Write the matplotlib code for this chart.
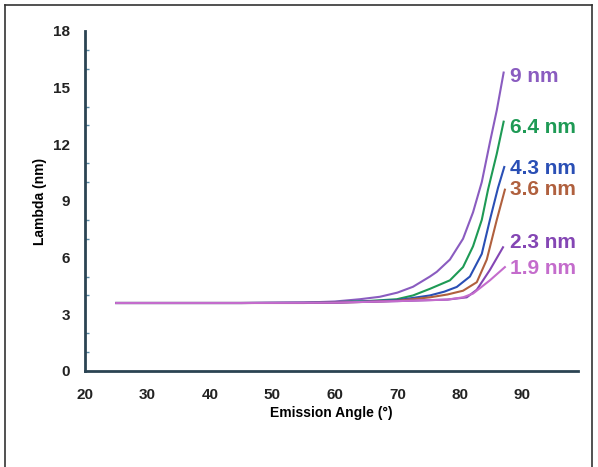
import matplotlib
matplotlib.use("Agg")
import matplotlib.pyplot as plt
from matplotlib.lines import Line2D

plt.rcParams['font.family'] = ['Liberation Sans', 'DejaVu Sans']

# emission angle (deg) / lambda (nm) for each film thickness
x_9 = [25, 45, 55, 60, 64, 67.2, 70, 72.5, 75.2, 76.3, 78.4, 80.5, 82.1, 83.5, 84.8, 85.9, 87.0]
y_9 = [3.6, 3.6, 3.62, 3.68, 3.8, 3.93, 4.15, 4.46, 5.0, 5.25, 5.9, 7.0, 8.4, 10.0, 12.1, 13.8, 15.8]
x_64 = [25, 45, 55, 60, 65, 69.9, 72.5, 75.2, 78.4, 80.5, 82.1, 83.5, 84.5, 85.9, 87.0]
y_64 = [3.6, 3.6, 3.61, 3.65, 3.7, 3.8, 4.0, 4.35, 4.8, 5.5, 6.6, 8.0, 9.6, 11.5, 13.2]
x_43 = [25, 45, 55, 60, 65, 70, 75.2, 77.5, 79.5, 81.6, 83.5, 84.8, 86.1, 87.1]
y_43 = [3.6, 3.6, 3.61, 3.63, 3.68, 3.75, 4.0, 4.2, 4.45, 5.0, 6.2, 8.0, 9.7, 10.8]
x_36 = [25, 45, 55, 60, 65, 70, 75.2, 78, 80.5, 82.7, 84.3, 85.9, 87.2]
y_36 = [3.6, 3.6, 3.6, 3.62, 3.66, 3.72, 3.9, 4.05, 4.25, 4.7, 5.9, 8.0, 9.6]
x_23 = [25, 45, 60, 70, 78, 81.1, 82.7, 84.8, 86.9]
y_23 = [3.6, 3.6, 3.62, 3.7, 3.78, 3.9, 4.3, 5.35, 6.55]
x_19 = [25, 45, 60, 70, 78, 80.5, 82.1, 84.8, 87.2]
y_19 = [3.6, 3.6, 3.62, 3.7, 3.78, 3.9, 4.1, 4.8, 5.5]

labels = ['9 nm', '6.4 nm', '4.3 nm', '3.6 nm', '2.3 nm', '1.9 nm']
label_y = [15.6, 12.9, 10.7, 9.6, 6.8, 5.4]
colors = ['#8a5cc0', '#1e9a55', '#2a4fb5', '#b0603e', '#8446b4', '#c46ccc']
series = [(x_9, y_9), (x_64, y_64), (x_43, y_43), (x_36, y_36), (x_23, y_23), (x_19, y_19)]

fig = plt.figure(figsize=(5.98, 4.67), dpi=100)
# thin frame round the figure (no bottom edge, as in the scan)
fx0, fx1, fy1 = 5 / 598, 592 / 598, 1 - 5 / 467
for xs, ys in [([fx0, fx1], [fy1, fy1]), ([fx0, fx0], [0, fy1]), ([fx1, fx1], [0, fy1])]:
    fig.add_artist(Line2D(xs, ys, transform=fig.transFigure, color='#333333', linewidth=1.2))

ax = fig.add_axes([85 / 598, 1 - 371 / 467, (578 - 85) / 598, (371 - 31) / 467])

for (x, y), c, lab, ly in zip(series, colors, labels, label_y):
    ax.plot(x, y, color=c, linewidth=1.5)
    ax.text(88.0, ly, lab, color=c, fontsize=15, fontweight='bold',
            va='center', ha='left')

ax.set_xlim(20, 98.9)
ax.set_ylim(0, 18)
for s in ['top', 'right']:
    ax.spines[s].set_visible(False)
for s in ['left', 'bottom']:
    ax.spines[s].set_color('#2b4453')
    ax.spines[s].set_linewidth(2)

ax.set_yticks(range(0, 19, 3))
ax.set_yticks(range(0, 19), minor=True)
ax.set_xticks(range(20, 91, 10))
ax.set_xticks(range(30, 81, 10), minor=True)
ax.tick_params(axis='both', which='major', length=0, labelsize=11)
ax.tick_params(axis='y', which='major', pad=11)
ax.tick_params(axis='x', which='major', pad=12)
ax.tick_params(axis='both', which='minor', direction='in', length=3,
               color='#5a8aa5', width=1)
for t in ax.get_xticklabels() + ax.get_yticklabels():
    t.set_fontweight('bold')
    t.set_color('#222222')

ax.set_xlabel('Emission Angle (°)', fontsize=10, fontweight='bold', labelpad=3)
ax.set_ylabel('Lambda (nm)', fontsize=10, fontweight='bold', labelpad=4)

fig.savefig('out.png', dpi=100)
